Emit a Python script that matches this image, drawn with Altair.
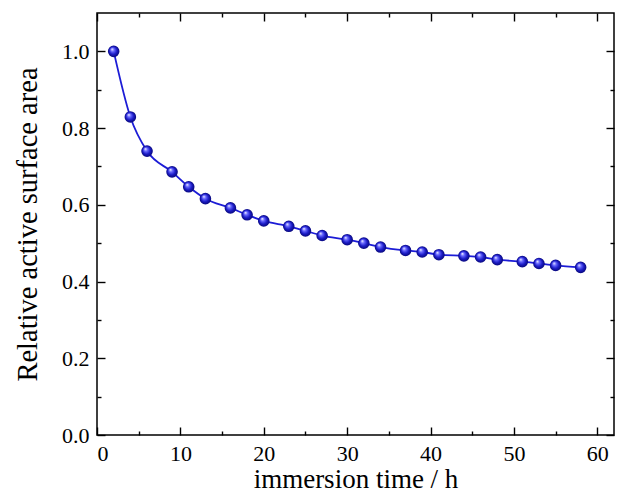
import altair as alt
import pandas as pd

# immersion time (h) and relative active surface area
times = [2, 4, 6, 9, 11, 13, 16, 18, 20, 23, 25, 27, 30, 32, 34, 37, 39, 41, 44, 46, 48, 51, 53, 55, 58]
values = [1.000, 0.829, 0.740, 0.686, 0.647, 0.616, 0.592, 0.574, 0.558, 0.544, 0.532, 0.520, 0.509,
          0.500, 0.490, 0.481, 0.477, 0.470, 0.467, 0.464, 0.457, 0.452, 0.447, 0.442, 0.437]

x_major = [0, 10, 20, 30, 40, 50, 60]
x_minor = [5, 15, 25, 35, 45, 55]
y_major = [0.0, 0.2, 0.4, 0.6, 0.8, 1.0]
y_minor = [0.1, 0.3, 0.5, 0.7, 0.9]

df = pd.DataFrame({"t": times, "v": values})

FONT = "Liberation Serif"
X_DOM = [0, 62]
Y_DOM = [0, 1.1]


def xs(axis):
    return alt.X("t:Q", scale=alt.Scale(domain=X_DOM, nice=False, zero=False), axis=axis)


def ys(axis):
    return alt.Y("v:Q", scale=alt.Scale(domain=Y_DOM, nice=False, zero=False), axis=axis)


def tick_axis(orient, vals, size):
    return alt.Axis(orient=orient, values=vals, offset=-size, tickSize=size, labels=False,
                    domain=False, grid=False, title=None, tickColor="black", tickWidth=1.4)


label_x = alt.Axis(orient="bottom", values=x_major, ticks=False, tickSize=0, domain=False, grid=False,
                   labelFont=FONT, labelFontSize=22, labelPadding=8, labelColor="black",
                   title="immersion time / h", titleFont=FONT, titleFontSize=27,
                   titleFontWeight="normal", titleColor="black", titlePadding=2)
label_y = alt.Axis(orient="left", values=y_major, format=".1f", ticks=False, tickSize=0, domain=False,
                   grid=False, labelFont=FONT, labelFontSize=22, labelPadding=8, labelColor="black",
                   title="Relative active surface area", titleFont=FONT, titleFontSize=28.5,
                   titleFontWeight="normal", titleColor="black", titlePadding=19)

line = alt.Chart(df).mark_line(color="#1c1cd6", strokeWidth=1.8, interpolate="monotone").encode(
    x=xs(label_x), y=ys(label_y))

sphere = alt.RadialGradient(
    gradient="radial",
    stops=[alt.GradientStop(color="#ffffff", offset=0.0),
           alt.GradientStop(color="#6a6aff", offset=0.3),
           alt.GradientStop(color="#1c1cc8", offset=0.65),
           alt.GradientStop(color="#08087a", offset=1.0)],
    x1=0.35, y1=0.3, r1=0.0, x2=0.5, y2=0.5, r2=0.5)

points = alt.Chart(df).mark_point(filled=True, fill=sphere, size=135, opacity=1, strokeWidth=0).encode(
    x=xs(tick_axis("bottom", x_major, 8)), y=ys(tick_axis("left", y_major, 8)))

minor_bl = alt.Chart(df).mark_point(opacity=0).encode(
    x=xs(tick_axis("bottom", x_minor, 4)), y=ys(tick_axis("left", y_minor, 4)))
major_tr = alt.Chart(df).mark_point(opacity=0).encode(
    x=xs(tick_axis("top", x_major, 8)), y=ys(tick_axis("right", y_major, 8)))
minor_tr = alt.Chart(df).mark_point(opacity=0).encode(
    x=xs(tick_axis("top", x_minor, 4)), y=ys(tick_axis("right", y_minor, 4)))

chart = alt.layer(line, points, minor_bl, major_tr, minor_tr).resolve_scale(
    x="independent", y="independent"
).properties(
    width=517, height=422,
    autosize=alt.AutoSizeParams(type="none"),
    padding={"left": 89, "top": 5, "right": 1, "bottom": 60},
    background="white",
).configure_view(stroke="black", strokeWidth=1.5)

chart.save("out.html", embed_options={"renderer": "svg", "actions": False})
